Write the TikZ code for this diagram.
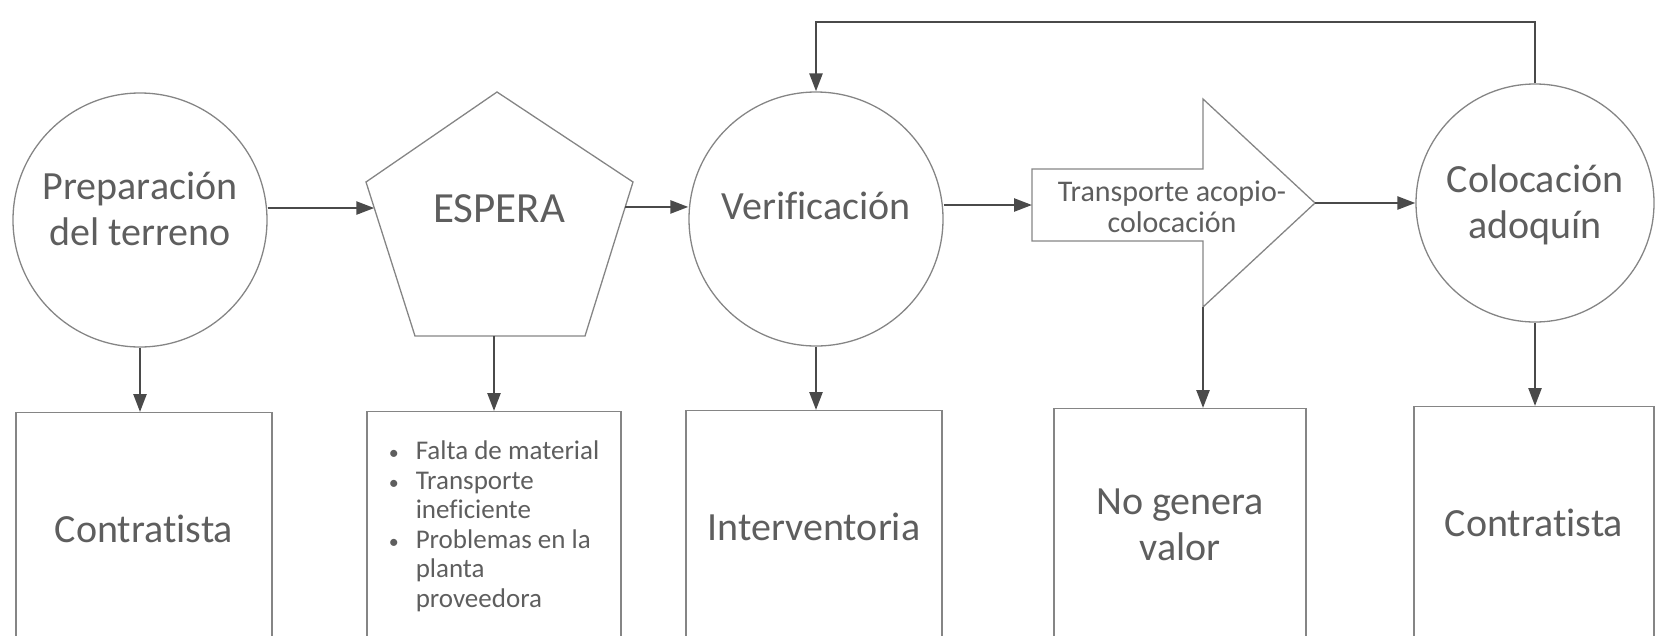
\documentclass[tikz,border=0pt]{standalone}
\usepackage{fontspec}
\setmainfont{Carlito}[Ligatures=NoCommon]
\usetikzlibrary{arrows.meta,calc}

\definecolor{linec}{HTML}{4A4A4A}
\definecolor{shapec}{HTML}{858585}
\definecolor{txtc}{HTML}{5E5E5E}

\begin{document}
\begin{tikzpicture}[x=1pt,y=-1pt,
  every node/.style={text=txtc},
  flow/.style={draw=linec, line width=2.5pt,
    -{Triangle[length=18pt,width=13pt]}},
  outline/.style={draw=shapec, line width=1.3pt, line join=miter},
  proc/.style={circle, outline, minimum size=#1, inner sep=0pt},
  big/.style={font=\fontsize{40}{46}\selectfont, inner sep=0pt, align=center},
  box/.style={rectangle, outline, anchor=north, minimum width=#1,
    minimum height=232pt, inner sep=0pt, align=center,
    font=\fontsize{40}{46}\selectfont},
  small/.style={font=\fontsize{30}{31}\selectfont, inner sep=0pt, align=center},
]
\useasboundingbox (0,0) rectangle (1656,635);
\clip (0,0) rectangle (1656,635);

% --- process circles (text sits a little above the centre) ---
\node[proc=254pt, label={[big, yshift=11pt]center:Preparación\\del terreno}] (c1) at (140,220) {};
\node[proc=254pt, label={[big, yshift=13pt]center:Verificación}] (c2) at (816,219) {};
\node[proc=238pt, label={[big, yshift=-2pt]center:Colocación\\adoquín}] (c3) at (1535,203) {};

% --- waiting pentagon ---
\coordinate (pT)  at (497,92);
\coordinate (pL)  at (366,182);
\coordinate (pR)  at (633,182);
\coordinate (pBL) at (415,336);
\coordinate (pBR) at (585,336);
\draw[outline] (pT) -- (pR) -- (pBR) -- (pBL) -- (pL) -- cycle;
\node[big, font=\fontsize{43}{46}\selectfont] (esp) at (499,209) {ESPERA};

% --- transport block arrow ---
\coordinate (tTL)  at (1032,169);
\coordinate (tBL)  at (1032,241);
\coordinate (tHT1) at (1203,169);
\coordinate (tHB1) at (1203,241);
\coordinate (tHT)  at (1203,99);
\coordinate (tHB)  at (1203,307);
\coordinate (tTip) at (1315,203);
\draw[outline] (tTL) -- (tHT1) -- (tHT) -- (tTip) -- (tHB) -- (tHB1) -- (tBL) -- cycle;
\node[small] (tr) at (1172,207) {Transporte acopio-\\colocación};

% --- responsibility boxes ---
\node[box=256pt] (b1) at (144,412) {Contratista};
\node[box=254pt, font=\fontsize{27}{29.6}\selectfont] (b2) at (494,411)
  {\begin{tabular}{@{}p{27pt}@{}l@{}}
    {\fontsize{20}{20}\selectfont\textbullet} & Falta de material\\
    {\fontsize{20}{20}\selectfont\textbullet} & Transporte\\
                & ineficiente\\
    {\fontsize{20}{20}\selectfont\textbullet} & Problemas en la\\
                & planta\\
                & proveedora
   \end{tabular}};
\node[box=256pt] (b3) at (814,410) {Interventoria};
\node[box=252pt] (b4) at (1180,408) {No genera\\valor};
\node[box=240pt] (b5) at (1534,406) {Contratista};

% --- main flow ---
\coordinate (a1) at ($(pL)!0.169!(pBL)$);
\draw[flow] (c1.east |- a1) -- (a1);
\coordinate (a2) at ($(pR)!0.162!(pBR)$);
\draw[flow] (a2) -- (c2.west |- a2);
\coordinate (a3) at ($(tTL)!0.5!(tBL)$);
\draw[flow] (c2.east |- a3) -- (a3);
\draw[flow] (tTip) -- (c3.west |- tTip);

% --- feedback loop ---
\coordinate (fb) at (0,22);
\draw[flow] (c3.north) -- (c3.north |- fb) -| (c2.north);

% --- links to boxes ---
\draw[flow] (c1.south) -- (c1.south |- b1.north);
\draw[flow] (b2.north |- pBL) -- (b2.north);
\draw[flow] (c2.south) -- (c2.south |- b3.north);
\draw[flow] (tHB) -- (tHB |- b4.north);
\draw[flow] (c3.south) -- (c3.south |- b5.north);
\end{tikzpicture}
\end{document}
